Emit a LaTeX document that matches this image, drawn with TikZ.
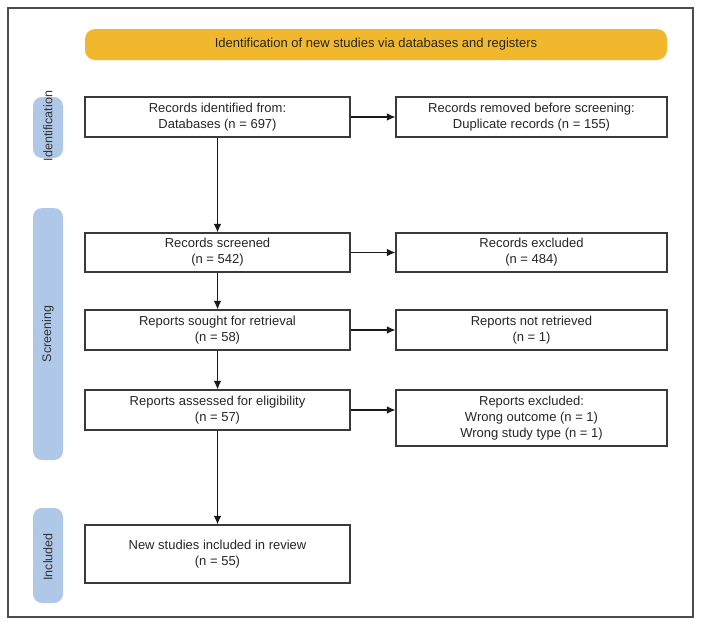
\documentclass[tikz,border=0pt]{standalone}
\usepackage{fontspec}
\setmainfont{Liberation Sans}
\usetikzlibrary{arrows.meta}
\definecolor{banner}{HTML}{F2B82D}
\definecolor{side}{HTML}{B0C8E8}
\definecolor{edge}{HTML}{3A3A3A}
\tikzset{
  box/.style={draw=edge, line width=1.1pt, fill=white, align=center, font=\fontsize{13}{16.2}\selectfont, text=black!85, inner sep=2pt},
  sidebar/.style={fill=side, rounded corners=9pt},
  sidetext/.style={rotate=90, font=\fontsize{12.5}{15}\selectfont, text=black!80},
  arr/.style={draw=black!90, line width=1.1pt, -{Latex[length=8.5pt,width=7.5pt]}}
}
\begin{document}
\begin{tikzpicture}[x=1pt,y=-1pt]
\useasboundingbox (0,0) rectangle (703,627);
\draw[draw=black!70, line width=1.1pt] (8,8) rectangle (693,617);
% banner
\fill[banner, rounded corners=10pt] (85,29) rectangle (667,60);
\node[font=\fontsize{13}{15}\selectfont, text=black!85] (title) at (376,44.5) {Identification of new studies via databases and registers};
% side bars
\fill[sidebar] (33,97) rectangle (63,158);
\node[sidetext] (sid) at (48,126) {Identification};
\fill[sidebar] (33,208) rectangle (63,460);
\node[sidetext] (ssc) at (48,334) {Screening};
\fill[sidebar] (33,508) rectangle (63,603);
\node[sidetext] (sin) at (48,557) {Included};
% boxes
\node[box, minimum width=265pt, minimum height=40pt] (b1) at (217.5,117) {Records identified from:\\Databases (n = 697)};
\node[box, minimum width=271pt, minimum height=40pt] (b2) at (531.5,117) {Records removed before screening:\\Duplicate records (n = 155)};
\node[box, minimum width=265pt, minimum height=39pt] (b3) at (217.5,252.5) {Records screened\\(n = 542)};
\node[box, minimum width=271pt, minimum height=39pt] (b4) at (531.5,252.5) {Records excluded\\(n = 484)};
\node[box, minimum width=265pt, minimum height=40pt] (b5) at (217.5,330) {Reports sought for retrieval\\(n = 58)};
\node[box, minimum width=271pt, minimum height=40pt] (b6) at (531.5,330) {Reports not retrieved\\(n = 1)};
\node[box, minimum width=265pt, minimum height=40pt] (b7) at (217.5,410) {Reports assessed for eligibility\\(n = 57)};
\node[box, minimum width=271pt, minimum height=56pt] (b8) at (531.5,418) {Reports excluded:\\Wrong outcome (n = 1)\\Wrong study type (n = 1)};
\node[box, minimum width=265pt, minimum height=58pt] (b9) at (217.5,554) {New studies included in review\\(n = 55)};
% arrows
\draw[arr] (b1) -- (b2);
\draw[arr] (b3) -- (b4);
\draw[arr] (b5) -- (b6);
\draw[arr] (b7.east) -- (b8.west |- b7.east);
\draw[arr] (b1) -- (b3);
\draw[arr] (b3) -- (b5);
\draw[arr] (b5) -- (b7);
\draw[arr] (b7) -- (b9);
\end{tikzpicture}
\end{document}
